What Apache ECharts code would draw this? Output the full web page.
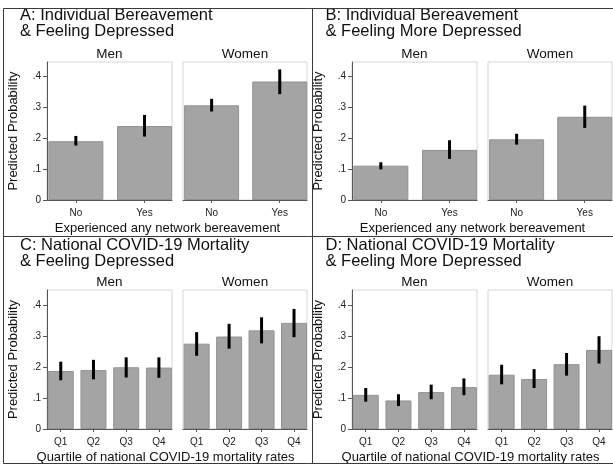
<!DOCTYPE html>
<html>
<head>
<meta charset="utf-8">
<script src="https://cdn.jsdelivr.net/npm/echarts@6/dist/echarts.min.js"></script>
<style>html,body{margin:0;padding:0;background:#fff}#c{width:613px;height:467px}</style>
</head>
<body>
<div id="c"></div>
<script>
// ---- data ----
var catsBereave = ['No', 'Yes'];
var catsQuart = ['Q1', 'Q2', 'Q3', 'Q4'];
var yTicks = [0, 0.1, 0.2, 0.3, 0.4];

var aMen = [0.190, 0.239];
var aMenLo = [0.176, 0.205];
var aMenHi = [0.207, 0.275];
var aWomen = [0.306, 0.383];
var aWomenLo = [0.286, 0.342];
var aWomenHi = [0.327, 0.422];

var bMen = [0.111, 0.162];
var bMenLo = [0.099, 0.133];
var bMenHi = [0.122, 0.193];
var bWomen = [0.196, 0.269];
var bWomenLo = [0.179, 0.233];
var bWomenHi = [0.214, 0.305];

var cMen = [0.187, 0.190, 0.199, 0.198];
var cMenLo = [0.157, 0.160, 0.166, 0.165];
var cMenHi = [0.217, 0.223, 0.231, 0.231];
var cWomen = [0.275, 0.298, 0.318, 0.342];
var cWomenLo = [0.236, 0.259, 0.276, 0.296];
var cWomenHi = [0.312, 0.339, 0.360, 0.387];

var dMen = [0.110, 0.092, 0.119, 0.135];
var dMenLo = [0.088, 0.074, 0.096, 0.109];
var dMenHi = [0.132, 0.112, 0.143, 0.163];
var dWomen = [0.175, 0.161, 0.209, 0.255];
var dWomenLo = [0.144, 0.132, 0.172, 0.211];
var dWomenHi = [0.207, 0.193, 0.245, 0.299];

var panelTitles = [
  ['A: Individual Bereavement', '& Feeling Depressed'],
  ['B: Individual Bereavement', '& Feeling More Depressed'],
  ['C: National COVID-19 Mortality', '& Feeling Depressed'],
  ['D: National COVID-19 Mortality', '& Feeling More Depressed']
];
var xTitles = ['Experienced any network bereavement', 'Experienced any network bereavement',
  'Quartile of national COVID-19 mortality rates', 'Quartile of national COVID-19 mortality rates'];
var sexLabels = ['Men', 'Women'];
var yTitle = 'Predicted Probability';

// ---- layout ----
var FONT = '"Liberation Sans", Arial, Helvetica, sans-serif';
var panels = [
  {cats: catsBereave, men: [aMen, aMenLo, aMenHi], women: [aWomen, aWomenLo, aWomenHi], ox: 0, top: 62, h: 138, ymax: 0.446, bw: 55, xt: 167.5},
  {cats: catsBereave, men: [bMen, bMenLo, bMenHi], women: [bWomen, bWomenLo, bWomenHi], ox: 305, top: 62, h: 138, ymax: 0.446, bw: 55, xt: 167.5},
  {cats: catsQuart, men: [cMen, cMenLo, cMenHi], women: [cWomen, cWomenLo, cWomenHi], ox: 0, top: 290, h: 139, ymax: 0.448, bw: 26, xt: 165.5},
  {cats: catsQuart, men: [dMen, dMenLo, dMenHi], women: [dWomen, dWomenLo, dWomenHi], ox: 305, top: 290, h: 139, ymax: 0.448, bw: 26, xt: 165.5}
];

var grids = [], xAxes = [], yAxes = [], series = [], graphics = [];

function errRender(params, api) {
  var x = api.value(0), lo = api.value(1), hi = api.value(2);
  var p1 = api.coord([x, lo]), p2 = api.coord([x, hi]);
  return {type: 'line', shape: {x1: p1[0], y1: p1[1], x2: p2[0], y2: p2[1]},
    style: {stroke: '#000', lineWidth: 3}};
}

panels.forEach(function (p, pi) {
  var n = p.cats.length;
  var xmin = -0.42, xmax = n - 1 + 0.40;
  var ty = pi < 2 ? 0 : 230;
  [0, 1].forEach(function (s) {
    var gi = grids.length;
    var left = (s === 0 ? 47 : 183) + p.ox;
    var w = s === 0 ? 125 : 124;
    grids.push({left: left, top: p.top, width: w, height: p.h, show: true,
      borderColor: '#d6d6d6', borderWidth: 1, backgroundColor: 'transparent', containLabel: false});
    var idxs = p.cats.map(function (c, i) { return i; });
    xAxes.push({type: 'value', gridIndex: gi, min: xmin, max: xmax,
      axisLine: {show: true, onZero: false, lineStyle: {color: '#555', width: 1}},
      axisTick: {show: true, length: 3, customValues: idxs, lineStyle: {color: '#555'}},
      axisLabel: {show: true, customValues: idxs, margin: 8, fontSize: 10, color: '#222', fontFamily: FONT,
        formatter: (function (cats) { return function (v) { return cats[Math.round(v)]; }; })(p.cats)},
      splitLine: {show: false}});
    yAxes.push({type: 'value', gridIndex: gi, min: 0, max: p.ymax,
      axisLine: {show: s === 0, onZero: false, lineStyle: {color: '#555', width: 1}},
      axisTick: {show: s === 0, length: 4, customValues: yTicks, lineStyle: {color: '#555'}},
      axisLabel: {show: s === 0, customValues: yTicks, margin: 6, fontSize: 10, color: '#222', fontFamily: FONT,
        formatter: function (v) { return v === 0 ? '0' : '.' + Math.round(v * 10); }},
      splitLine: {show: false}});
    var d = s === 0 ? p.men : p.women;
    series.push({type: 'bar', xAxisIndex: gi, yAxisIndex: gi, barWidth: p.bw,
      data: d[0].map(function (v, i) { return [i, v]; }),
      itemStyle: {color: '#a4a4a4', borderColor: '#929292', borderWidth: 1},
      silent: true});
    series.push({type: 'custom', xAxisIndex: gi, yAxisIndex: gi, renderItem: errRender,
      encode: {x: 0, y: [1, 2]},
      data: d[1].map(function (l, i) { return [i, l, d[2][i]]; }), z: 5, silent: true});
    // sex label
    graphics.push({type: 'text', x: left + w / 2, y: (pi < 2 ? 54 : 282.6),
      style: {text: sexLabels[s], font: '13.5px ' + FONT, fill: '#111', align: 'center', verticalAlign: 'middle'}});
  });
  // titles
  graphics.push({type: 'text', x: 20 + p.ox + (p.ox ? 0.5 : 0), y: 15.2 + ty,
    style: {text: panelTitles[pi][0], font: '16.5px ' + FONT, fill: '#111', align: 'left', verticalAlign: 'middle'}});
  graphics.push({type: 'text', x: 20 + p.ox + (p.ox ? 0.5 : 0), y: 31.2 + ty,
    style: {text: panelTitles[pi][1], font: '16.5px ' + FONT, fill: '#111', align: 'left', verticalAlign: 'middle'}});
  // x title
  graphics.push({type: 'text', x: p.xt + p.ox, y: (pi < 2 ? 228.5 : 457),
    style: {text: xTitles[pi], font: '13px ' + FONT, fill: '#111', align: 'center', verticalAlign: 'middle'}});
  // y title
  graphics.push({type: 'text', x: 13.5 + p.ox, y: p.top + p.h / 2, rotation: Math.PI / 2,
    style: {text: yTitle, font: '13px ' + FONT, fill: '#111', align: 'center', verticalAlign: 'middle'}});
});

// outer frame lines
var frameColor = '#3a3a3a';
[[3.5, 8.5, 3.5, 463.5], [3.5, 8.5, 613, 8.5], [312.5, 8.5, 312.5, 463.5],
 [3.5, 236.5, 613, 236.5], [3.5, 463.5, 613, 463.5]].forEach(function (l) {
  graphics.push({type: 'line', shape: {x1: l[0], y1: l[1], x2: l[2], y2: l[3]},
    style: {stroke: frameColor, lineWidth: 1}, silent: true});
});

var chart = echarts.init(document.getElementById('c'), null, {renderer: 'canvas'});
chart.setOption({
  animation: false,
  backgroundColor: '#fff',
  grid: grids, xAxis: xAxes, yAxis: yAxes, series: series,
  graphic: {elements: graphics}
});
</script>
</body>
</html>
